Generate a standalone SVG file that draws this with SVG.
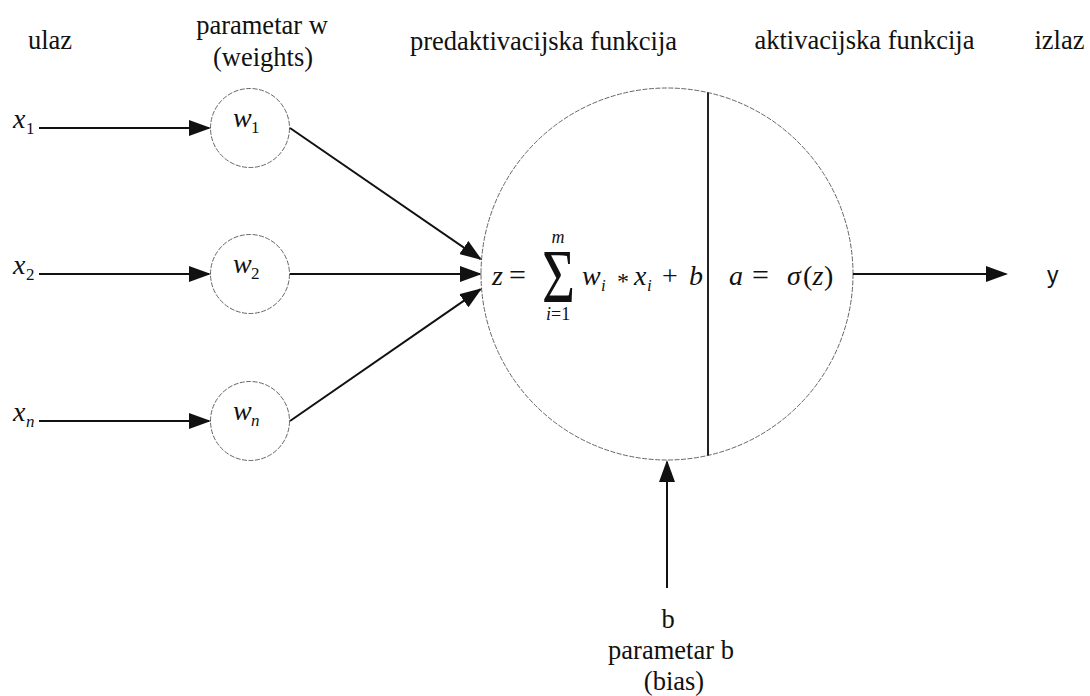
<svg xmlns="http://www.w3.org/2000/svg" width="1090" height="696" viewBox="0 0 1090 696">
<style>
  .node { fill: #fff; stroke: #666; stroke-width: 1; stroke-dasharray: 5 1.5; }
  .conn { stroke: #111; stroke-width: 2; fill: none; }
</style>
<defs>
  <marker id="arr" viewBox="0 0 22 16" refX="20" refY="8" markerWidth="22" markerHeight="16" markerUnits="userSpaceOnUse" orient="auto">
    <path d="M0,0 L22,8 L0,16 z" fill="#111"/>
  </marker>
</defs>
<rect width="1090" height="696" fill="#fff"/>

<g id="headers" fill="#111" text-anchor="middle">
  <text x="50" y="49" font-family="Liberation Serif" font-size="26.5">ulaz</text>
  <text x="262" y="34" font-family="Liberation Serif" font-size="26.5">parametar w</text>
  <text x="263" y="66" font-family="Liberation Serif" font-size="26.5">(weights)</text>
  <text x="543.5" y="50" font-family="Liberation Serif" font-size="26.5">predaktivacijska funkcija</text>
  <text x="864.5" y="49" font-family="Liberation Serif" font-size="26.5">aktivacijska funkcija</text>
  <text x="1059.5" y="49" font-family="Liberation Serif" font-size="26.5">izlaz</text>
</g>

<g id="input-x1" fill="#111">
  <text x="13" y="128" font-family="Liberation Serif" font-style="italic" font-size="28">x</text>
  <text x="26" y="134" font-family="Liberation Serif" font-size="17">1</text>
</g>
<g id="input-x2" fill="#111">
  <text x="13" y="274" font-family="Liberation Serif" font-style="italic" font-size="28">x</text>
  <text x="26" y="280" font-family="Liberation Serif" font-size="17">2</text>
</g>
<g id="input-xn" fill="#111">
  <text x="13" y="421" font-family="Liberation Serif" font-style="italic" font-size="28">x</text>
  <text x="26" y="427" font-family="Liberation Serif" font-style="italic" font-size="17">n</text>
</g>

<g id="weight-w1" fill="#111">
  <circle class="node" cx="250" cy="128" r="39.5"/>
  <text x="233" y="127" font-family="Liberation Serif" font-style="italic" font-size="28">w</text>
  <text x="251" y="133" font-family="Liberation Serif" font-size="17">1</text>
</g>
<g id="weight-w2" fill="#111">
  <circle class="node" cx="250" cy="274" r="39.5"/>
  <text x="233" y="273" font-family="Liberation Serif" font-style="italic" font-size="28">w</text>
  <text x="251" y="279" font-family="Liberation Serif" font-size="17">2</text>
</g>
<g id="weight-wn" fill="#111">
  <circle class="node" cx="250" cy="421" r="39.5"/>
  <text x="233" y="420" font-family="Liberation Serif" font-style="italic" font-size="28">w</text>
  <text x="251" y="426" font-family="Liberation Serif" font-style="italic" font-size="17">n</text>
</g>

<g id="neuron" fill="#111">
  <circle class="node" cx="667" cy="274" r="186"/>
  <line x1="708" y1="92.6" x2="708" y2="455.4" stroke="#222" stroke-width="2"/>
  <text x="492" y="285" font-family="Liberation Serif" font-style="italic" font-size="28">z</text>
  <text x="509" y="285" font-family="Liberation Serif" font-size="30">=</text>
  <text x="542" y="302" font-family="Liberation Serif" font-size="76" textLength="33" lengthAdjust="spacingAndGlyphs">Σ</text>
  <text x="558" y="243" font-family="Liberation Serif" font-style="italic" font-size="18" text-anchor="middle">m</text>
  <text x="546" y="320" font-family="Liberation Serif" font-style="italic" font-size="18">i</text>
  <text x="551" y="320" font-family="Liberation Serif" font-size="18">=1</text>
  <text x="582" y="285" font-family="Liberation Serif" font-style="italic" font-size="28">w</text>
  <text x="601" y="291" font-family="Liberation Serif" font-style="italic" font-size="17">i</text>
  <text x="617" y="289" font-family="Liberation Serif" font-size="24">*</text>
  <text x="634" y="285" font-family="Liberation Serif" font-style="italic" font-size="28">x</text>
  <text x="647" y="291" font-family="Liberation Serif" font-style="italic" font-size="17">i</text>
  <text x="662" y="285" font-family="Liberation Serif" font-size="28">+</text>
  <text x="689" y="285" font-family="Liberation Serif" font-style="italic" font-size="28">b</text>
  <text x="729" y="285" font-family="Liberation Serif" font-style="italic" font-size="28">a</text>
  <text x="752" y="285" font-family="Liberation Serif" font-size="30">=</text>
  <text x="787" y="285" font-family="Liberation Serif" font-style="italic" font-size="28">σ</text>
  <text x="803" y="285" font-family="Liberation Serif" font-size="28">(</text>
  <text x="812.5" y="285" font-family="Liberation Serif" font-style="italic" font-size="28">z</text>
  <text x="824" y="285" font-family="Liberation Serif" font-size="28">)</text>
</g>

<g id="output-y">
  <text x="1047" y="283" font-family="Liberation Sans" font-size="23" fill="#111">y</text>
</g>

<g id="bias" fill="#111" text-anchor="middle">
  <text x="668" y="628" font-family="Liberation Serif" font-size="26.5">b</text>
  <text x="671" y="659" font-family="Liberation Serif" font-size="26.5">parametar b</text>
  <text x="674" y="690" font-family="Liberation Serif" font-size="26.5">(bias)</text>
</g>

<g id="connectors">
  <line class="conn" x1="39" y1="128" x2="209" y2="128" marker-end="url(#arr)"/>
  <line class="conn" x1="39" y1="274" x2="209" y2="274" marker-end="url(#arr)"/>
  <line class="conn" x1="39" y1="421" x2="209" y2="421" marker-end="url(#arr)"/>
  <line class="conn" x1="290" y1="128" x2="480.3" y2="258.9" marker-end="url(#arr)"/>
  <line class="conn" x1="290" y1="274" x2="480" y2="274" marker-end="url(#arr)"/>
  <line class="conn" x1="290" y1="421" x2="480.3" y2="289.4" marker-end="url(#arr)"/>
  <line class="conn" x1="853" y1="274" x2="1006" y2="274" marker-end="url(#arr)"/>
  <line class="conn" x1="667" y1="588" x2="667" y2="462" marker-end="url(#arr)"/>
</g>
</svg>
